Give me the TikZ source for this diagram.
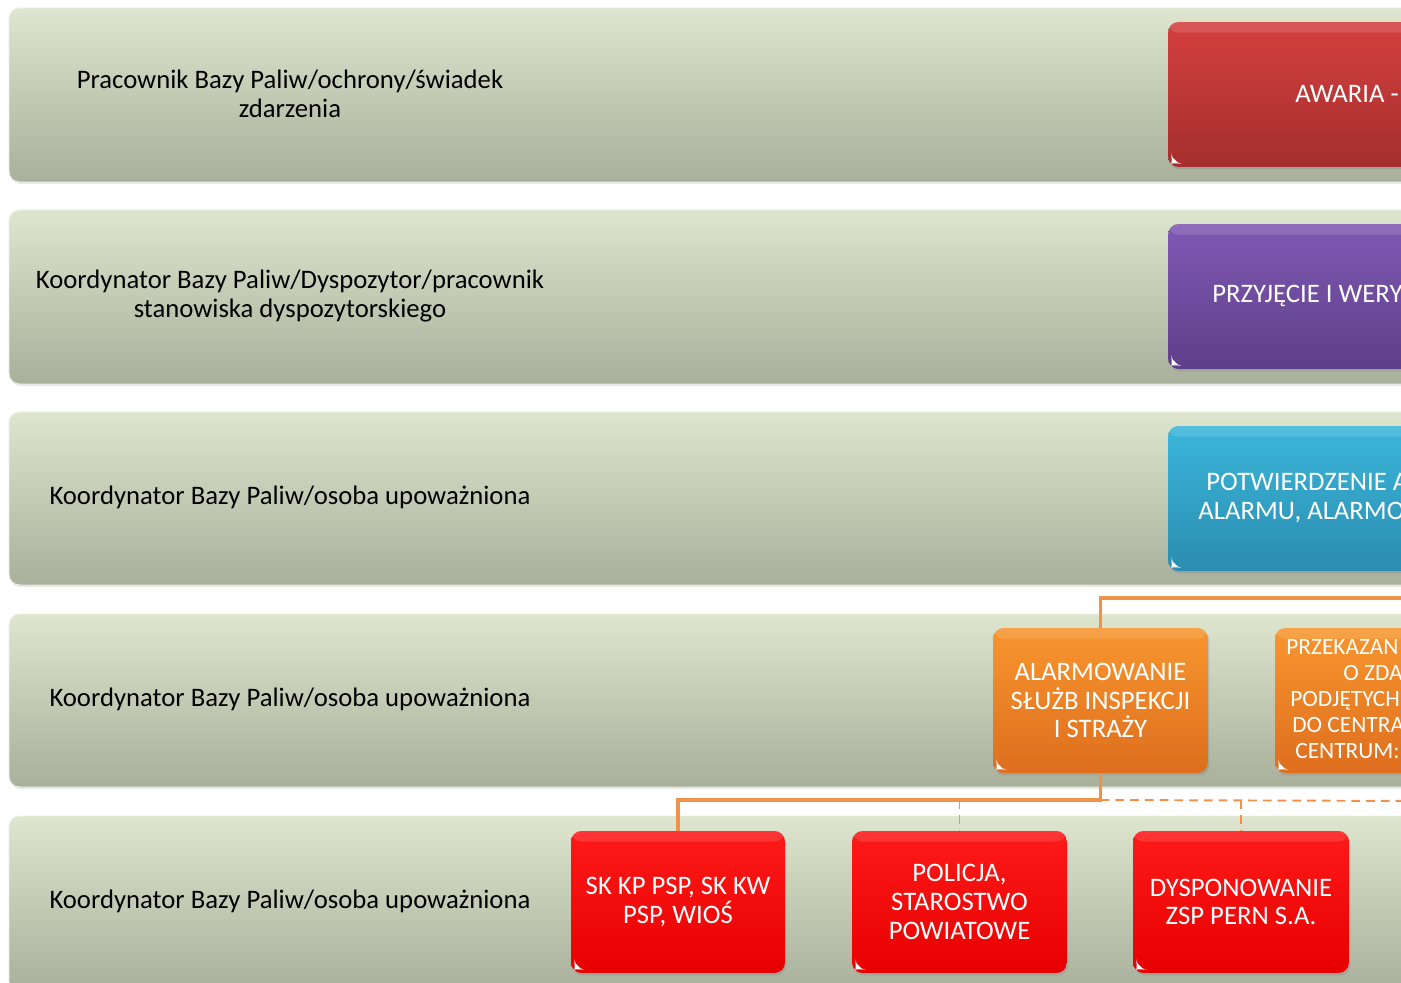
\documentclass[tikz,border=0pt]{standalone}
\usepackage{fontspec}
\setmainfont{Carlito}
\usetikzlibrary{positioning,calc,shadows}

\definecolor{laneTop}{HTML}{DFE6CF}
\definecolor{laneBot}{HTML}{A8AF9A}
\definecolor{awariaTop}{HTML}{D4403F}
\definecolor{awariaBot}{HTML}{A52E2E}
\definecolor{przyjTop}{HTML}{8059B2}
\definecolor{przyjBot}{HTML}{5E3F8B}
\definecolor{potwTop}{HTML}{3BB6DA}
\definecolor{potwBot}{HTML}{2A8DB0}
\definecolor{alarmTop}{HTML}{F8962F}
\definecolor{alarmBot}{HTML}{DE6E1E}
\definecolor{sluzbyTop}{HTML}{FF1A1A}
\definecolor{sluzbyBot}{HTML}{E60000}
\definecolor{connOrange}{HTML}{F0924A}

\tikzset{
  lane/.style={rounded corners=6pt, top color=laneTop, bottom color=laneBot,
    draw=laneTop!60!white, line width=0.5pt,
    drop shadow={opacity=0.18, shadow xshift=0.6pt, shadow yshift=-1.2pt}},
  lanetext/.style={font=\fontsize{15.2}{16.4}\selectfont, align=center, text=black, inner sep=0pt},
  stepbox/.style={rounded corners=6pt, minimum height=2.9cm, inner sep=0pt,
    text=white, align=center, font=\fontsize{15.2}{16.4}\selectfont,
    drop shadow={opacity=0.3, shadow xshift=0.8pt, shadow yshift=-1.4pt},
    path picture={
      \fill[white,opacity=0.12] (path picture bounding box.north west) rectangle ([yshift=-6pt]path picture bounding box.north east);
      \fill[white] ([shift={(2pt,2pt)}]path picture bounding box.south west) -- ++(4pt,0) -- ++(-4pt,4pt) -- cycle;
    }},
  boxtext/.style={text=white, inner sep=0pt, anchor=west, align=left},
  conn/.style={draw=connOrange, line width=2.2pt},
  dconn/.style={draw=connOrange, line width=1.1pt, dash pattern=on 5pt off 3.4pt},
}

\begin{document}
\begin{tikzpicture}[x=0.02cm, y=-0.02cm]
    \useasboundingbox (0,0) rectangle (1401,983);
    \clip (0,0) rectangle (1401,983);

    % Lanes
    \foreach \t/\b in {8/182, 210/384, 412/585, 614/787, 816/992}
        \path[lane] (9,\t) rectangle (1470,\b);

    % Lane labels
    \node[lanetext] (who1) at (290,94) {Pracownik Bazy Paliw/ochrony/świadek\\zdarzenia};
    \node[lanetext] (who2) at (290,296) {Koordynator Bazy Paliw/Dyspozytor/pracownik\\stanowiska dyspozytorskiego};
    \node[lanetext] (who3) at (290,497) {Koordynator Bazy Paliw/osoba upoważniona};
    \node[lanetext] (who4) at (290,699) {Koordynator Bazy Paliw/osoba upoważniona};
    \node[lanetext] (who5) at (290,901) {Koordynator Bazy Paliw/osoba upoważniona};

    % Steps cut at the right edge
    \node[stepbox, top color=awariaTop, bottom color=awariaBot, minimum width=6.4cm] (awaria) at (1328,94.5) {};
    \node[boxtext, font=\fontsize{15.2}{16.4}\selectfont] (awariatxt) at (1295,94) {AWARIA -};

    \node[stepbox, top color=przyjTop, bottom color=przyjBot, minimum width=6.4cm] (przyj) at (1328,296.5) {};
    \node[boxtext, font=\fontsize{15.2}{16.4}\selectfont] (przyjtxt) at (1212,296) {PRZYJĘCIE I WERY};

    \node[stepbox, top color=potwTop, bottom color=potwBot, minimum width=6.4cm] (potw) at (1328,498.5) {};
    \node[boxtext, font=\fontsize{15.2}{16.4}\selectfont] (potwtxt) at (1198,498) {\hspace*{0.16cm}POTWIERDZENIE A\\ALARMU, ALARMO};

    % Row 4
    \node[stepbox, top color=alarmTop, bottom color=alarmBot, minimum width=4.3cm] (alarm) at (1100.5,700.5) {ALARMOWANIE\\SŁUŻB INSPEKCJI\\I STRAŻY};
    \node[stepbox, top color=alarmTop, bottom color=alarmBot, minimum width=4.4cm] (przek) at (1385,700.5) {};
    \node[boxtext, font=\fontsize{13.3}{14.7}\selectfont] (przektxt) at (1286,699) {PRZEKAZAN\\\hspace*{1.14cm}O ZDA\\\hspace*{0.08cm}PODJĘTYCH\\\hspace*{0.12cm}DO CENTRA\\\hspace*{0.18cm}CENTRUM:};

    % Row 5
    \node[stepbox, top color=sluzbyTop, bottom color=sluzbyBot, minimum width=4.28cm, minimum height=2.84cm] (skpsp) at (678,902) {SK KP PSP, SK KW\\PSP, WIOŚ};
    \node[stepbox, top color=sluzbyTop, bottom color=sluzbyBot, minimum width=4.3cm, minimum height=2.84cm] (policja) at (959.5,902) {POLICJA,\\STAROSTWO\\POWIATOWE};
    \node[stepbox, top color=sluzbyTop, bottom color=sluzbyBot, minimum width=4.32cm, minimum height=2.84cm] (zsp) at (1241,902) {DYSPONOWANIE\\ZSP PERN S.A.};

    % Connectors
    \coordinate (topend) at (1420,598);
    \coordinate (hub) at (1100.5,800);
    \coordinate (dashend) at (1420,801);
    \draw[conn] (alarm.north) |- (topend);
    \draw[conn] (alarm.south) -- (hub) -| (skpsp.north);
    \draw[dconn] (hub) -- (dashend);
    \draw[dconn] (policja.north |- hub) -- (policja.north);
    \draw[dconn] (zsp.north |- hub) -- (zsp.north);
\end{tikzpicture}
\end{document}
